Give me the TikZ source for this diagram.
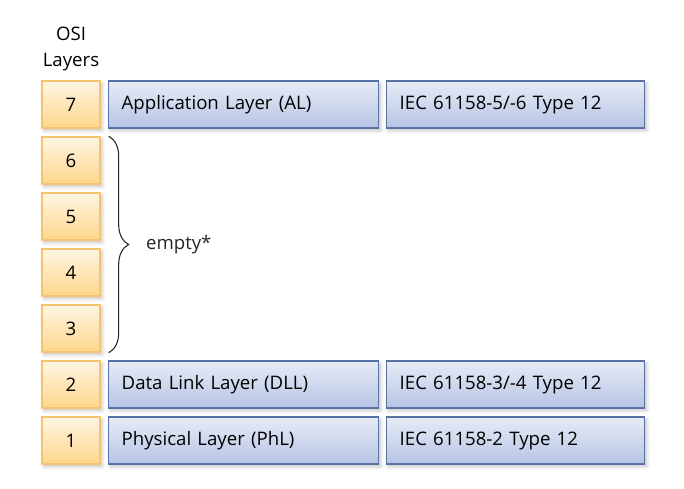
\documentclass[tikz,border=0pt]{standalone}
\usepackage{fontspec}
\setmainfont{Open Sans}
\usetikzlibrary{shadows.blur,decorations.pathreplacing}
\definecolor{ositop}{HTML}{FFF6E2}
\definecolor{osibot}{HTML}{FDD58C}
\definecolor{osiedge}{HTML}{F2C46E}
\definecolor{protop}{HTML}{E6EBF6}
\definecolor{probot}{HTML}{B6C4E4}
\definecolor{proedge}{HTML}{5872A6}

\begin{document}
\begin{tikzpicture}[x=0.02cm, y=-0.02cm, font=\fontsize{10.6}{12}\selectfont,
  layerbox/.style={rectangle, draw=osiedge, thick, top color=ositop, bottom color=osibot,
    minimum width=1.16cm, minimum height=0.94cm, inner sep=0pt,
    blur shadow={shadow blur steps=4, shadow xshift=0.4mm, shadow yshift=-0.5mm, shadow opacity=25}},
  protobox/.style={rectangle, draw=proedge, thick, top color=protop, bottom color=probot,
    minimum height=0.94cm, inner xsep=0.26cm, inner ysep=0pt, align=left, anchor=west,
    blur shadow={shadow blur steps=4, shadow xshift=0.4mm, shadow yshift=-0.5mm, shadow opacity=25}},
  wide/.style={text width=4.88cm},
  narrow/.style={text width=4.64cm},
  brace/.style={decorate, decoration={brace, amplitude=0.4cm}, black!85, semithick}
]
  \useasboundingbox (0,0) rectangle (684,488);

  % OSI column
  \node[align=center] (osi) at (71,49) {OSI\\[3pt]Layers};
  \node[layerbox] (l7) at (71,104.5) {7};
  \node[layerbox] (l6) at (71,160.5) {6};
  \node[layerbox] (l5) at (71,216.5) {5};
  \node[layerbox] (l4) at (71,272.5) {4};
  \node[layerbox] (l3) at (71,328.5) {3};
  \node[layerbox] (l2) at (71,384.5) {2};
  \node[layerbox] (l1) at (71,440.5) {1};

  % layer names
  \node[protobox, wide] (al)  at (108,104.5) {Application Layer (AL)};
  \node[protobox, wide] (dll) at (108,384.5) {Data Link Layer (DLL)};
  \node[protobox, wide] (phl) at (108,440.5) {Physical Layer (PhL)};

  % standards
  \node[protobox, narrow] (ial)  at (386,104.5) {IEC 61158-5/-6 Type 12};
  \node[protobox, narrow] (idll) at (386,384.5) {IEC 61158-3/-4 Type 12};
  \node[protobox, narrow] (iphl) at (386,440.5) {IEC 61158-2 Type 12};

  % layers 3 to 6 are not used
  \draw[brace] ([xshift=0.16cm]l6.north east) -- ([xshift=0.16cm]l3.south east)
    node[midway, anchor=west, xshift=0.62cm] (empty) {empty*};
\end{tikzpicture}
\end{document}
